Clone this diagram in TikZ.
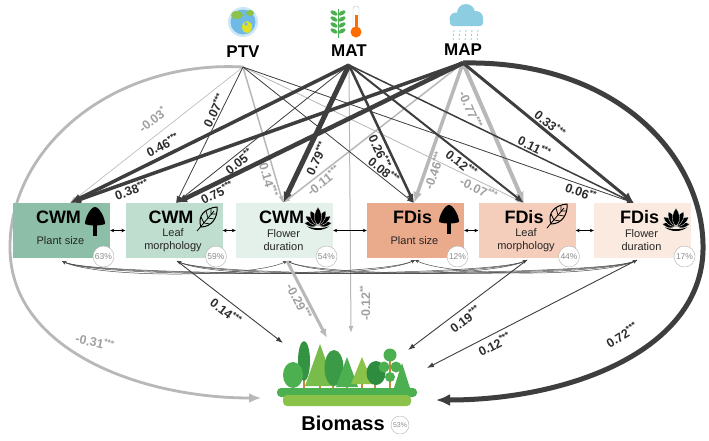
\documentclass[tikz,border=0pt]{standalone}
\usepackage{fontspec}
\setmainfont{Liberation Sans}
\usepackage{xcolor}
\usetikzlibrary{positioning, arrows.meta, calc}

\definecolor{cwmA}{RGB}{140,190,168}
\definecolor{cwmB}{RGB}{192,222,208}
\definecolor{cwmC}{RGB}{228,240,234}
\definecolor{fdisA}{RGB}{234,170,140}
\definecolor{fdisB}{RGB}{244,206,187}
\definecolor{fdisC}{RGB}{251,234,224}
\definecolor{pathdark}{RGB}{62,62,62}
\definecolor{pathgray}{RGB}{184,184,184}
\definecolor{labdark}{RGB}{45,45,45}
\definecolor{labgray}{RGB}{160,160,160}
\definecolor{leafdark}{RGB}{46,140,62}
\definecolor{leafmid}{RGB}{76,175,80}
\definecolor{leaflight}{RGB}{139,195,74}
\definecolor{trunkbrown}{RGB}{196,140,60}
\definecolor{ocean}{RGB}{110,185,230}
\definecolor{raincloud}{RGB}{140,205,225}

\tikzset{
  pics/treeicon/.style={code={
    \fill (-10,3) .. controls (-10,-4) and (-4,-14) .. (0,-14) .. controls (4,-14) and (10,-4) .. (10,3) .. controls (5,5) and (-5,5) .. (-10,3) -- cycle;
    \fill (-2.3,3) rectangle (2.3,15);
  }},
  pics/leaficon/.style={code={
    \draw[line width=1pt, line join=round] (-7,9) .. controls (-11,-2) and (-3,-10) .. (9,-11) .. controls (10,-1) and (4,9) .. (-7,9) -- cycle;
    \draw[line width=0.8pt] (-11,13) -- (6,-7);
    \draw[line width=0.7pt] (-4,5) -- (-7,-1) (-4,5) -- (2,6) (0,0) -- (-2,-7) (0,0) -- (6,1) (3,-4) -- (3,-9) (3,-4) -- (8,-4);
  }},
  pics/lotusicon/.style={code={
    \foreach \a/\s in {82/0.85, -82/0.85, 55/0.95, -55/0.95, 28/1, -28/1, 0/1.1}
      \fill[draw=white, line width=0.3pt, rotate=\a, scale=\s] (0,0) .. controls (-4.5,-4) and (-2.5,-10) .. (0,-13) .. controls (2.5,-10) and (4.5,-4) .. (0,0) -- cycle;
    \fill (-9,1) .. controls (-4,5) and (4,5) .. (9,1) .. controls (4,3) and (-4,3) .. (-9,1) -- cycle;
  }},
}

\begin{document}
\begin{tikzpicture}[x=1pt, y=-1pt, >={Latex[length=7pt,width=5pt]},
    box/.style={minimum width=97pt, minimum height=55pt, inner sep=0pt},
    boxhead/.style={font=\bfseries\fontsize{18}{20}\selectfont},
    boxtext/.style={font=\fontsize{11}{13}\selectfont, align=center, text=black!85},
    src/.style={font=\bfseries\fontsize{17}{19}\selectfont},
    pct/.style={circle, draw=gray!60, fill=white, minimum size=21pt, inner sep=0pt, font=\fontsize{8.5}{9}\selectfont, text=gray!90},
    dk/.style={draw=pathdark, ->},
    lg/.style={draw=pathgray, ->},
    midhead/.style={-{Latex[length=9pt,width=7pt]}},
    bighead/.style={-{Latex[length=11pt,width=9pt]}},
    lab/.style={font=\bfseries\fontsize{12.5}{14}\selectfont, text=labdark, inner sep=1.2pt},
    glab/.style={lab, text=labgray},
    cov/.style={draw=black!70, line width=0.5pt, {Stealth[length=4pt,width=3.5pt]}-{Stealth[length=4pt,width=3.5pt]}},
    pairarrow/.style={black, line width=0.6pt, {Stealth[length=4pt,width=3.5pt]}-{Stealth[length=4pt,width=3.5pt]}},
]
\useasboundingbox (0,0) rectangle (709,440);
\fill[white] (0,0) rectangle (709,440);

\node[src] (ptv) at (243,52) {PTV};
\node[src] (mat) at (349,51) {MAT};
\node[src] (map) at (463,50) {MAP};
\coordinate (ptvo) at (243,67);
\coordinate (mato) at (349,65);
\coordinate (mapo) at (463,63);

\coordinate (c1t) at (70,203);
\coordinate (c2t) at (176,203);
\coordinate (c3t) at (283,203);
\coordinate (f1t) at (414,203);
\coordinate (f2t) at (524,203);
\coordinate (f3t) at (634,203);
\coordinate (c1b) at (62,261);
\coordinate (c2b) at (177,261);
\coordinate (c3b) at (287,261);
\coordinate (f1b) at (415,260);
\coordinate (f2b) at (527,260);
\coordinate (f3b) at (637,260);
\coordinate (bioL) at (261,398);
\coordinate (bioR) at (436,400);
\coordinate (bio14) at (283,343);
\coordinate (bio29) at (327,338);
\coordinate (bio12) at (351,333);
\coordinate (bio19) at (408,350);
\coordinate (bio12r) at (427,368);

\draw[draw=pathgray, line width=2.8pt, -{Latex[length=12pt,width=10pt]}] (ptvo) .. controls (110,60) and (8,150) .. (10,250) .. controls (12,350) and (140,398) .. (bioL);
\node[glab, rotate=-12] (l031) at (95,342) {-0.31\textsuperscript{***}};
\draw[draw=pathdark, line width=5pt, -{Latex[length=14pt,width=12pt]}] (mapo) .. controls (620,60) and (705,160) .. (703,250) .. controls (701,350) and (570,400) .. (bioR);
\node[lab, rotate=32] (l072) at (622,335) {0.72\textsuperscript{***}};

\draw[lg, line width=0.6pt] (ptvo) -- (c1t) node[glab, pos=.47, sloped, above=8pt] {-0.03\textsuperscript{*}};
\draw[lg, line width=1.5pt] (ptvo) -- (c3t) node[glab, pos=.8, sloped, below] {-0.14\textsuperscript{***}};
\draw[lg, line width=0.8pt] (ptvo) -- (f2t) node[glab, pos=.85, sloped, below] {-0.07\textsuperscript{***}};
\draw[lg, line width=1pt] (mato) -- (bio12);
\node[glab, rotate=90] (l012) at (365,303) {-0.12\textsuperscript{**}};
\draw[lg, line width=1.5pt] (mapo) -- (c3t) node[glab, pos=.8, sloped, below] {-0.11\textsuperscript{***}};
\draw[lg, line width=3.5pt, bighead] (mapo) -- (f1t) node[glab, pos=.75, sloped, below] {-0.46\textsuperscript{***}};
\draw[lg, line width=4pt, bighead] (mapo) -- (f2t) node[glab, pos=.3, sloped, below=3pt] {-0.77\textsuperscript{***}};

\draw[dk, line width=0.8pt] (ptvo) -- (c2t) node[lab, pos=.34, sloped, above] {0.07\textsuperscript{***}};
\draw[dk, line width=0.8pt] (ptvo) -- (f1t) node[lab, pos=.8, sloped, above] {0.08\textsuperscript{***}};
\draw[dk, line width=0.8pt] (ptvo) -- (f3t) node[lab, pos=.87, sloped, below] {0.06\textsuperscript{**}};
\draw[dk, line width=3.5pt, bighead] (mato) -- (c1t) node[lab, pos=.65, sloped, above=3pt] {0.46\textsuperscript{***}};
\draw[dk, line width=0.8pt] (mato) -- (c2t) node[lab, pos=.66, sloped, below] {0.05\textsuperscript{**}};
\draw[dk, line width=5pt, bighead] (mato) -- (c3t) node[lab, pos=.64, sloped, below=2pt] {0.79\textsuperscript{***}};
\draw[dk, line width=2.5pt, midhead] (mato) -- (f1t) node[lab, pos=.6, sloped, below=1pt] {0.26\textsuperscript{***}};
\draw[dk, line width=2pt, midhead] (mato) -- (f2t) node[lab, pos=.67, sloped, below] {0.12\textsuperscript{***}};
\draw[dk, line width=1.5pt] (mato) -- (f3t) node[lab, pos=.64, sloped, above] {0.11\textsuperscript{***}};
\draw[dk, line width=3.5pt, bighead] (mapo) -- (c1t) node[lab, pos=.85, sloped, below] {0.38\textsuperscript{***}};
\draw[dk, line width=4.5pt, bighead] (mapo) -- (c2t) node[lab, pos=.87, sloped, below] {0.75\textsuperscript{***}};
\draw[dk, line width=3pt, bighead] (mapo) -- (f3t) node[lab, pos=.48, sloped, above] {0.33\textsuperscript{***}};

\foreach \a/\b in {c1b/c3b, c1b/f1b, c1b/f2b, c1b/f3b, c2b/f1b, c2b/f2b, c2b/f3b, c3b/f2b, c3b/f3b, f1b/f3b}
  \draw[cov] (\a) .. controls ($(\a)+(35,17)$) and ($(\b)+(-35,17)$) .. (\b);

\foreach \n/\x/\c/\h/\t/\p in {cwm1/61.5/cwmA/CWM/Plant size/63, cwm2/174/cwmB/CWM/Leaf\\morphology/59, cwm3/284.5/cwmC/CWM/Flower\\duration/54, fdis1/415.5/fdisA/FDis/Plant size/12, fdis2/527/fdisB/FDis/Leaf\\morphology/44, fdis3/642.5/fdisC/FDis/Flower\\duration/17}
{
  \node[box, fill=\c] (\n) at (\x,230.5) {};
  \node[boxhead] (\n-head) at ([shift={(-3,-13)}]\n.center) {\h};
  \node[boxtext] (\n-text) at ([shift={(-1,10)}]\n.center) {\t};
  \node[pct] (\n-pct) at ([shift={(42,26)}]\n.center) {\p\%};
}

\pic at (95,221) {treeicon};
\pic at (208,218) {leaficon};
\pic[scale=1.25] at (318,225) {lotusicon};
\pic at (449,219) {treeicon};
\pic at (558,215) {leaficon};
\pic[scale=1.25] at (676,226) {lotusicon};

\draw[pairarrow] (cwm1) -- (cwm2);
\draw[pairarrow] (cwm2) -- (cwm3);
\draw[pairarrow] (cwm3) -- (fdis1);
\draw[pairarrow] (fdis1) -- (fdis2);
\draw[pairarrow] (fdis2) -- (fdis3);

\draw[dk, line width=0.9pt] (c2b) -- (bio14) node[lab, pos=.52, sloped, below=3pt] {0.14\textsuperscript{***}};
\draw[lg, line width=3pt, midhead] (c3b) -- (bio29) node[glab, pos=.48, sloped, below] {-0.29\textsuperscript{***}};
\draw[dk, line width=0.9pt] (f2b) -- (bio19) node[lab, pos=.57, sloped, below=3pt] {0.19\textsuperscript{***}};
\draw[dk, line width=0.9pt] (f3b) -- (bio12r) node[lab, pos=.70, sloped, below=3pt] {0.12\textsuperscript{***}};

% globe
\fill[ocean!35] (243,22) circle (15);
\fill[ocean] (243,22) circle (12.5);
\fill[leaflight] (237,15) ellipse (6 and 4);
\fill[yellow!70!leaflight] (247,27) ellipse (5 and 6);
\fill[leaflight] (250,13) ellipse (4 and 3);
\fill[ocean] (246,24) circle (1.8);
% plant and thermometer
\draw[leafmid, line width=1pt] (338,38) -- (338,9);
\foreach \y in {13,19,25,31} {
  \fill[leafmid, rotate around={-30:(334,\y)}] (334,\y) ellipse (4 and 2);
  \fill[leafmid, rotate around={30:(342,\y)}] (342,\y) ellipse (4 and 2);
}
\draw[gray!50, fill=white, rounded corners=2.5pt] (353,6) rectangle (359,30);
\fill[orange!85!red] (354.5,15) rectangle (357.5,30);
\fill[orange!85!red] (356,32) circle (5.5);
% cloud
\fill[raincloud] (456,19) circle (6.5);
\fill[raincloud] (466,13) circle (9);
\fill[raincloud] (476,18) circle (7);
\fill[raincloud, rounded corners=3pt] (450,17) rectangle (483,26);
\foreach \x in {454,460,466,472,478}
  \draw[raincloud, line width=0.8pt, dash pattern=on 2pt off 2pt] (\x,30) -- (\x-1,41);

% biomass trees
\foreach \x/\t in {293/375, 304/372, 320/378, 333/376, 347/380, 362/378, 375/378, 390/358, 402/380}
  \draw[trunkbrown, line width=1.8pt] (\x,\t) -- (\x,391);
\fill[leafdark!80!leafmid] (304,361) ellipse (6 and 20);
\fill[leaflight!70!leafmid] (305,386) -- (320,344) -- (335,386) -- cycle;
\fill[leafdark!60!leafmid] (334,368) ellipse (9.5 and 18);
\fill[leafmid] (293,375) ellipse (10 and 13);
\fill[leafmid] (336,387) -- (347,357) -- (358,387) -- cycle;
\fill[leaflight] (351,384) -- (362,357) -- (373,384) -- cycle;
\fill[leafdark] (376,373) ellipse (9.5 and 12);
\fill[leafmid] (390,355) circle (6.5);
\fill[leafmid] (384,367) circle (5.5);
\fill[leafmid] (396,367) circle (5.5);
\fill[leafmid] (390,377) circle (5);
\fill[leafmid] (394,388) -- (402,363) -- (410,388) -- cycle;
\fill[leafmid, rounded corners=4pt] (277,388) rectangle (417,397);
\fill[leaflight, rounded corners=4pt] (283,395) rectangle (411,406);

\node[font=\bfseries\fontsize{20}{22}\selectfont] (biomass) at (343,423) {Biomass};
\node[pct, minimum size=18pt, font=\fontsize{7}{8}\selectfont] (biomass-pct) at (400,425) {53\%};
\end{tikzpicture}
\end{document}
